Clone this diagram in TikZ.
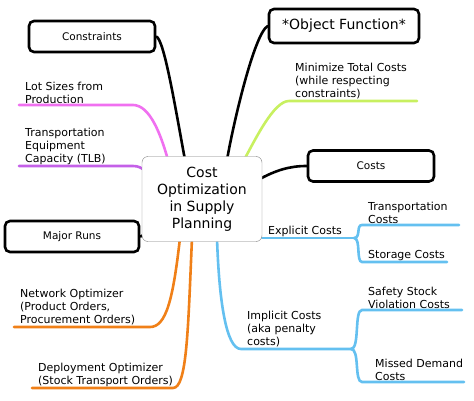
\documentclass[tikz,border=0pt]{standalone}
\usepackage{fontspec}
\setmainfont{DejaVu Sans}
\usetikzlibrary{positioning}
\definecolor{pinkbr}{RGB}{240,112,240}
\definecolor{violetbr}{RGB}{196,96,232}
\definecolor{limebr}{RGB}{200,240,96}
\definecolor{orangebr}{RGB}{240,128,24}
\definecolor{bluebr}{RGB}{100,192,240}
\tikzset{
    %Define style for the central box
    hub/.style={
           rectangle,
           rounded corners=6pt,
           draw=black!50, thin,
           fill=white,
           minimum width=120pt,
           minimum height=85pt,
           align=center,
           font=\fontsize{14}{17}\selectfont},
    %Define style for the black topic boxes
    topic/.style={
           rectangle,
           rounded corners=5pt,
           draw=black, line width=2.6pt,
           fill=white,
           minimum height=31pt,
           text centered,
           font=\fontsize{10.5}{13}\selectfont},
    %Define style for text over a branch
    leaf/.style={
           anchor=south west,
           align=left,
           inner xsep=6pt,
           inner ysep=1.5pt,
           font=\fontsize{11}{13}\selectfont},
    % Define line styles
    link/.style={line width=2.6pt, line cap=round},
    pinkline/.style={link, draw=pinkbr},
    violetline/.style={link, draw=violetbr},
    limeline/.style={link, draw=limebr},
    orangeline/.style={link, draw=orangebr},
    blueline/.style={link, draw=bluebr},
}
\begin{document}
\begin{tikzpicture}[x=1pt,y=-1pt]
\useasboundingbox (0,0) rectangle (474,401);
%branch ends
\coordinate (lotR) at (133,105);
\coordinate (tlbR) at (133,166);
\coordinate (minR) at (417,101);
\coordinate (netR) at (150,327);
\coordinate (depR) at (173,388);
\coordinate (expR) at (354,238);
\coordinate (impR) at (351,349);
\coordinate (trR) at (459,225);
\coordinate (stR) at (447,262);
\coordinate (saR) at (462,310);
\coordinate (miR) at (464,382);
%colored branches first, hub drawn on top
\node[leaf] (lot) at (19,105) {Lot Sizes from\\Production};
\draw[pinkline] (lot.south west) -- (lotR) .. controls (150,105) and (161,135) .. (168,160);
\node[leaf] (tlb) at (19,166) {Transportation\\Equipment\\Capacity (TLB)};
\draw[violetline] (tlb.south west) -- (tlbR) .. controls (139,166) and (141,168) .. (146,171);
\node[leaf] (minimize) at (289,101) {Minimize Total Costs\\(while respecting\\constraints)};
\draw[limeline] (244,160) .. controls (256,138) and (274,101) .. (minimize.south west) -- (minR);
\node[leaf] (netopt) at (14,327) {Network Optimizer\\(Product Orders,\\Procurement Orders)};
\draw[orangeline] (180,238) .. controls (173,300) and (166,327) .. (netR) -- (netopt.south west);
\node[leaf] (depopt) at (32,388) {Deployment Optimizer\\(Stock Transport Orders)};
\draw[orangeline] (192,238) .. controls (188,330) and (187,388) .. (depR) -- (depopt.south west);
\node[leaf] (explicit) at (262,238) {Explicit Costs};
\draw[blueline] (explicit.south west) -- (expR);
\node[leaf] (implicit) at (241,349) {Implicit Costs\\(aka penalty\\costs)};
\draw[blueline] (217,238) .. controls (219,300) and (226,349) .. (implicit.south west) -- (impR);
\node[leaf] (transp) at (362,225) {Transportation\\Costs};
\node[leaf] (storage) at (362,262) {Storage Costs};
\draw[blueline] (expR) .. controls (361,238) and (356,225) .. (transp.south west) -- (trR);
\draw[blueline] (expR) .. controls (361,238) and (356,262) .. (storage.south west) -- (stR);
\node[leaf] (safety) at (362,310) {Safety Stock\\Violation Costs};
\node[leaf, inner xsep=13pt] (missed) at (362,382) {Missed Demand\\Costs};
\draw[blueline] (impR) .. controls (360,349) and (354,310) .. (safety.south west) -- (saR);
\draw[blueline] (impR) .. controls (360,349) and (354,382) .. (missed.south west) -- (miR);
%black topic boxes
\node[topic, minimum width=126pt] (constraints) at (92,36.5) {Constraints};
\node[topic, minimum width=150pt, minimum height=34pt, font=\fontsize{14}{17}\selectfont] (objfun) at (344,26) {*Object Function*};
\node[topic, minimum width=126pt] (costs) at (371,166) {Costs};
\node[topic, minimum width=134pt] (runs) at (72,236.5) {Major Runs};
\draw[link] (constraints.east) .. controls (164,40) and (174,100) .. (185,160);
\draw[link] (objfun.west) .. controls (254,34) and (233,125) .. (227,160);
\draw[link] (costs.west) .. controls (290,166) and (276,170) .. (258,180);
\draw[link] (runs.east) -- (146,234);
%central box
\node[hub] (hub) at (202,199) {Cost\\Optimization\\in Supply\\Planning};
\end{tikzpicture}
\end{document}
